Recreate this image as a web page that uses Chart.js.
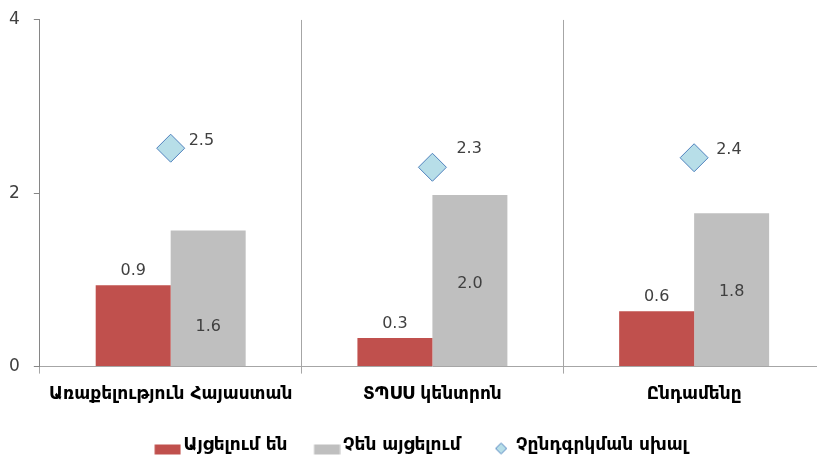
<!DOCTYPE html>
<html>
<head>
<meta charset="utf-8">
<script src="https://cdn.jsdelivr.net/npm/chart.js@4.4.0/dist/chart.umd.min.js"></script>
<style>
html, body { margin: 0; padding: 0; background: #fff; overflow: hidden; }
canvas { position: absolute; left: 0; top: 0; }
</style>
</head>
<body>
<canvas id="chart" width="840" height="458"></canvas>
<script>
// data
const categories = ['Առաքելություն Հայաստան', 'ՏՊՍՍ կենտրոն', 'Ընդամենը'];
const seriesNames = ['Այցելում են', 'Չեն այցելում', 'Չընդգրկման սխալ'];
const visitYes = [0.94, 0.33, 0.64];
const visitNo = [1.57, 1.98, 1.77];
const exclusionError = [2.52, 2.3, 2.41];
const yTicks = [0, 2, 4];

const RED = '#c0504d';
const GRAY = '#bfbfbf';
const NUM_FONT = "'DejaVu Sans', sans-serif";
const ARM_FONT = "'DejaVu Sans', sans-serif";

// legend swatches as little canvases, so text sits close to them
function rectSwatch(color) {
    const c = document.createElement('canvas');
    c.width = 40; c.height = 20;
    const g = c.getContext('2d');
    g.fillStyle = color;
    g.fillRect(13.5, 9, 26, 10);
    return c;
}
function diamondSwatch() {
    const c = document.createElement('canvas');
    c.width = 40; c.height = 20;
    const g = c.getContext('2d');
    g.beginPath();
    g.moveTo(27.5, 7.5); g.lineTo(33, 13); g.lineTo(27.5, 18.5); g.lineTo(22, 13);
    g.closePath();
    g.fillStyle = '#b7dee8'; g.fill();
    g.strokeStyle = '#4f81bd'; g.lineWidth = 1; g.stroke();
    return c;
}
const swatches = [rectSwatch(RED), rectSwatch(GRAY), diamondSwatch()];

// where each value label sits relative to its mark
const labelNudge = [
    { mode: 'above', dx: [0, 0, 0], dy: [-14, -14, -14] },
    { mode: 'middle', dx: [0, 0, 0], dy: [29, 3, 2] },
    { mode: 'right', dx: [18, 24, 22], dy: [-7, -18, -8] }
];

const valueLabels = {
    id: 'valueLabels',
    afterDatasetsDraw(chart) {
        const ctx = chart.ctx;
        ctx.save();
        ctx.font = '16px ' + NUM_FONT;
        ctx.fillStyle = '#404040';
        ctx.textBaseline = 'middle';
        chart.data.datasets.forEach((ds, i) => {
            const meta = chart.getDatasetMeta(i);
            const n = labelNudge[i];
            meta.data.forEach((el, j) => {
                const text = ds.data[j].toFixed(1);
                let x = el.x + n.dx[j];
                let y = el.y + n.dy[j];
                ctx.textAlign = 'center';
                if (n.mode === 'middle') y = (el.y + el.base) / 2 + n.dy[j];
                if (n.mode === 'right') ctx.textAlign = 'left';
                ctx.fillText(text, x, y);
            });
        });
        ctx.restore();
    }
};

new Chart(document.getElementById('chart'), {
    type: 'bar',
    data: {
        labels: categories,
        datasets: [{
            label: seriesNames[0],
            data: visitYes,
            backgroundColor: RED,
            barPercentage: 1,
            categoryPercentage: 0.573
        }, {
            label: seriesNames[1],
            data: visitNo,
            backgroundColor: GRAY,
            barPercentage: 1,
            categoryPercentage: 0.573
        }, {
            type: 'line',
            label: seriesNames[2],
            data: exclusionError,
            showLine: false,
            pointStyle: 'rectRot',
            pointRadius: 14,
            pointHoverRadius: 14,
            pointBackgroundColor: '#b7dee8',
            pointBorderColor: '#4f81bd',
            pointBorderWidth: 1
        }]
    },
    options: {
        responsive: false,
        animation: false,
        layout: { padding: { left: -5, right: 0, top: 0, bottom: -6 } },
        plugins: {
            tooltip: { enabled: false },
            legend: {
                position: 'bottom',
                labels: {
                    usePointStyle: true,
                    pointStyleWidth: 28,
                    padding: 19,
                    color: '#000',
                    font: { family: ARM_FONT, size: 17, weight: 'bold' },
                    generateLabels(chart) {
                        const items = Chart.defaults.plugins.legend.labels.generateLabels(chart);
                        items.forEach((it, i) => { it.pointStyle = swatches[i]; });
                        return items;
                    }
                }
            }
        },
        scales: {
            x: {
                grid: { color: '#a6a6a6', offset: true, tickLength: 7, drawOnChartArea: true },
                border: { color: '#a6a6a6' },
                afterFit(axis) { axis.height += 2; },
                ticks: {
                    color: '#000',
                    padding: 11,
                    font: { family: ARM_FONT, size: 17, weight: 'bold' }
                }
            },
            y: {
                min: 0,
                max: 4,
                afterBuildTicks(axis) { axis.ticks = yTicks.map(v => ({ value: v })); },
                grid: { drawOnChartArea: false, tickLength: 6, color: '#868686' },
                border: { color: '#868686' },
                ticks: {
                    color: '#404040',
                    padding: 14,
                    font: { family: NUM_FONT, size: 17, lineHeight: 0.7 }
                }
            }
        }
    },
    plugins: [valueLabels]
});
</script>
</body>
</html>
